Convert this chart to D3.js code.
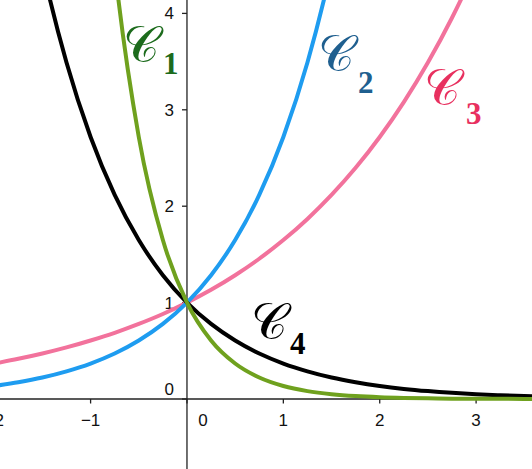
<!DOCTYPE html>
<html><head><meta charset="utf-8">
<script src="https://cdn.jsdelivr.net/npm/d3@7"></script>
<style>html,body{margin:0;padding:0;background:#fff;}svg{display:block;}</style>
</head><body>
<script>
// Sample abscissas and curve values
const xs = [-2, -1.75, -1.5, -1.25, -1, -0.75, -0.5, -0.25, 0, 0.25, 0.5, 0.75, 1, 1.25, 1.5, 1.75, 2, 2.25, 2.5, 2.75, 3, 3.25, 3.5, 3.75];
const c1 = [54.6, 33.1, 20.09, 12.18, 7.389, 4.482, 2.718, 1.649, 1, 0.607, 0.368, 0.223, 0.135, 0.082, 0.05, 0.03, 0.018, 0.011, 0.007, 0.004, 0.002, 0.002, 0.001, 0.001];
const c2 = [0.135, 0.174, 0.223, 0.287, 0.368, 0.472, 0.607, 0.779, 1, 1.284, 1.649, 2.117, 2.718, 3.49, 4.482, 5.755, 7.389, 9.488, 12.18, 15.64, 20.09, 25.79, 33.12, 42.52];
const c3 = [0.368, 0.417, 0.472, 0.535, 0.607, 0.687, 0.779, 0.882, 1, 1.133, 1.284, 1.455, 1.649, 1.868, 2.117, 2.398, 2.718, 3.08, 3.49, 3.955, 4.482, 5.078, 5.755, 6.521];
const c4 = [7.389, 5.755, 4.482, 3.49, 2.718, 2.117, 1.649, 1.284, 1, 0.779, 0.607, 0.472, 0.368, 0.287, 0.223, 0.174, 0.135, 0.105, 0.082, 0.064, 0.05, 0.039, 0.03, 0.024];
const xTicks = [-2, -1, 0, 1, 2, 3];
const xTickLabels = ["−2", "−1", "0", "1", "2", "3"];
const yTicks = [0, 1, 2, 3, 4];
const yTickLabels = ["0", "1", "2", "3", "4"];
const curveNames = ["1", "2", "3", "4"];

const W = 532, H = 469;
const x = d3.scaleLinear().domain([-1.94, 3.58]).range([0, W]);
const y = d3.scaleLinear().domain([-0.726, 4.139]).range([H, 0]);

const svg = d3.select("body").append("svg").attr("width", W).attr("height", H);
svg.append("defs").append("clipPath").attr("id", "clip")
  .append("rect").attr("x", 0).attr("y", 0).attr("width", W).attr("height", H);

const axisColor = "#222";
const gx = svg.append("g").attr("transform", `translate(0,${y(0)})`);
gx.append("line").attr("x1", 0).attr("x2", W).attr("stroke", axisColor).attr("stroke-width", 1.3);
xTicks.forEach((t, i) => {
  gx.append("line").attr("x1", x(t)).attr("x2", x(t)).attr("y1", 0).attr("y2", 4.5)
    .attr("stroke", axisColor).attr("stroke-width", 1.3);
  gx.append("text").attr("x", x(t) + (t === 0 ? 16 : 0)).attr("y", 27)
    .attr("text-anchor", "middle").attr("font-family", "Liberation Sans, Arial, sans-serif")
    .attr("font-size", 17).attr("fill", "#111").text(xTickLabels[i]);
});
const gy = svg.append("g").attr("transform", `translate(${x(0)},0)`);
gy.append("line").attr("y1", 0).attr("y2", H).attr("stroke", axisColor).attr("stroke-width", 1.3);
yTicks.forEach((t, i) => {
  gy.append("line").attr("x1", -5).attr("x2", 0).attr("y1", y(t)).attr("y2", y(t))
    .attr("stroke", axisColor).attr("stroke-width", 1.3);
  gy.append("text").attr("x", -13).attr("y", t === 0 ? y(t) - 4 : y(t) + 6)
    .attr("text-anchor", "end").attr("font-family", "Liberation Sans, Arial, sans-serif")
    .attr("font-size", 17).attr("fill", "#111").text(yTickLabels[i]);
});

const line = d3.line().x(d => x(d[0])).y(d => y(d[1])).curve(d3.curveMonotoneX);
const series = [
  {vals: c3, color: "#f2729c"},
  {vals: c2, color: "#1e9cf0"},
  {vals: c4, color: "#000000"},
  {vals: c1, color: "#6fa11e"}
];
const gc = svg.append("g").attr("clip-path", "url(#clip)");
series.forEach(s => {
  gc.append("path").datum(xs.map((v, i) => [v, s.vals[i]]))
    .attr("d", line).attr("fill", "none").attr("stroke", s.color)
    .attr("stroke-width", 4).attr("stroke-linejoin", "round");
});

const labels = [
  {name: curveNames[0], color: "#1c6b1c", cx: 123, cy: 62, sx: 163, sy: 74},
  {name: curveNames[1], color: "#1f5f8f", cx: 318, cy: 71, sx: 358, sy: 93},
  {name: curveNames[2], color: "#e8305f", cx: 424, cy: 105, sx: 466, sy: 124},
  {name: curveNames[3], color: "#000000", cx: 251, cy: 339, sx: 290, sy: 354}
];
labels.forEach(l => {
  svg.append("text").attr("x", l.cx).attr("y", l.cy).attr("fill", l.color)
    .attr("font-family", "DejaVu Serif, serif")
    .attr("font-size", 50).text("𝒞");
  svg.append("text").attr("x", l.sx).attr("y", l.sy).attr("fill", l.color)
    .attr("font-family", "Liberation Serif, serif").attr("font-weight", "bold")
    .attr("font-size", 31).text(l.name);
});
</script>
</body></html>
